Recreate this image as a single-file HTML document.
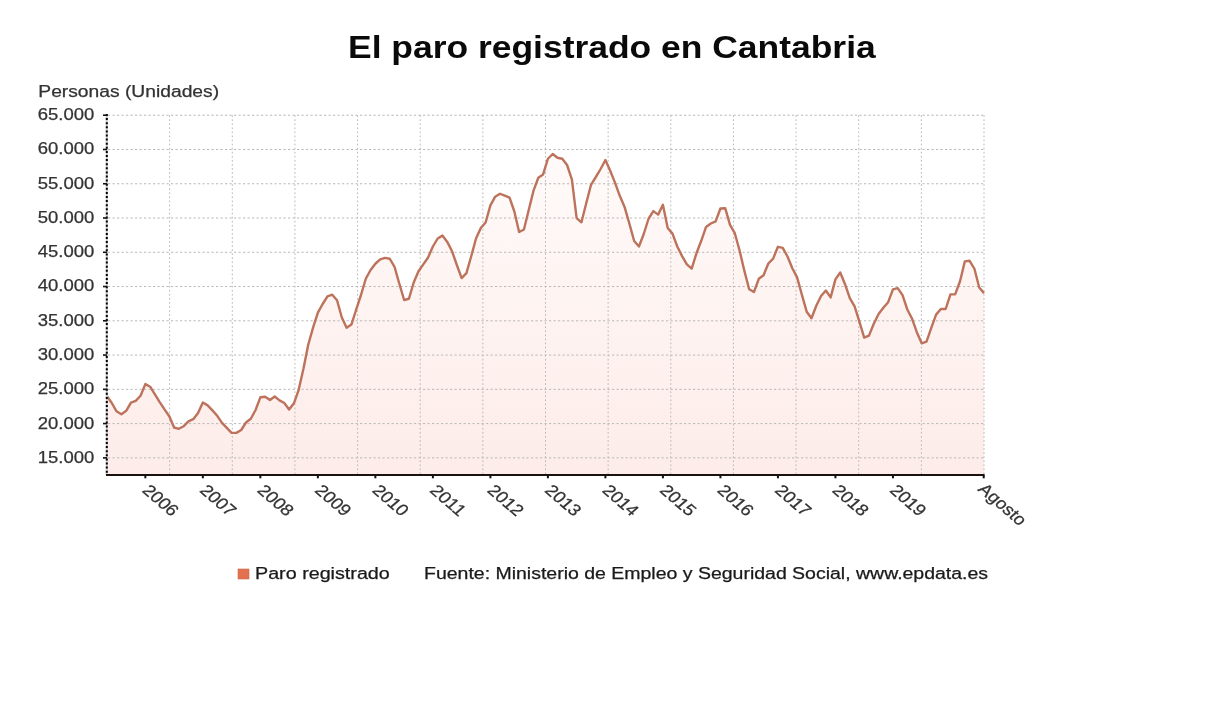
<!DOCTYPE html>
<html><head><meta charset="utf-8"><title>El paro registrado en Cantabria</title>
<style>
html,body{margin:0;padding:0;background:#fff;}
body{width:1226px;height:720px;overflow:hidden;}
svg{display:block;}
text{font-family:"Liberation Sans",Arial,sans-serif;}
.g{stroke:#b8b8b8;stroke-width:1;stroke-dasharray:2.2 2.3;fill:none;}
.gv{stroke:#b8b8b8;stroke-width:1;stroke-dasharray:1.7 2.36;fill:none;}
.tk{stroke:#111;stroke-width:1.6;}
.tx{stroke:#111;stroke-width:2;}
.yl{font-size:16px;fill:#333;text-anchor:end;stroke:#333;stroke-width:0.25px;}
.xl{font-size:16px;fill:#333;stroke:#333;stroke-width:0.25px;}
.lt{stroke:#1a1a1a;stroke-width:0.25px;}
</style></head>
<body>
<svg width="1226" height="720" viewBox="0 0 1226 720">
<rect width="1226" height="720" fill="#fff"/>
<text x="348" y="57.6" font-size="32" font-weight="bold" fill="#0a0a0a" textLength="527.7" lengthAdjust="spacingAndGlyphs">El paro registrado en Cantabria</text>
<text x="38.3" y="97" font-size="16" fill="#333" stroke="#333" stroke-width="0.25" textLength="180.8" lengthAdjust="spacingAndGlyphs">Personas (Unidades)</text>
<defs><linearGradient id="fg" gradientUnits="userSpaceOnUse" x1="0" y1="115" x2="0" y2="475"><stop offset="0" stop-color="#fffcfb"/><stop offset="1" stop-color="#fdece9"/></linearGradient></defs>
<polygon points="107.00,475.0 107.00,396.20 111.79,403.00 116.58,411.30 121.38,414.20 126.17,410.80 130.96,402.60 135.75,400.90 140.55,395.80 145.34,384.10 150.13,386.70 154.92,394.30 159.72,402.10 164.51,409.40 169.30,416.20 174.09,427.50 178.89,428.80 183.68,426.20 188.47,421.30 193.26,419.20 198.05,413.00 202.85,402.50 207.64,405.40 212.43,410.40 217.22,415.80 222.02,422.90 226.81,427.90 231.60,432.90 236.39,432.90 241.19,430.00 245.98,422.50 250.77,418.75 255.56,410.00 260.36,397.30 265.15,396.80 269.94,400.00 274.73,396.50 279.52,400.40 284.32,403.00 289.11,409.50 293.90,403.30 298.69,389.80 303.49,368.50 308.28,344.50 313.07,327.60 317.86,312.70 322.66,304.00 327.45,296.30 332.24,294.70 337.03,300.30 341.83,317.50 346.62,327.80 351.41,324.60 356.20,309.50 360.99,295.00 365.79,278.75 370.58,270.00 375.37,263.75 380.16,259.40 384.96,257.90 389.75,258.75 394.54,266.90 399.33,283.75 404.13,300.00 408.92,298.75 413.71,282.50 418.50,271.25 423.30,264.40 428.09,257.50 432.88,246.50 437.67,238.50 442.46,235.60 447.26,241.90 452.05,251.25 456.84,265.00 461.63,278.10 466.43,273.10 471.22,256.25 476.01,238.50 480.80,228.00 485.60,222.50 490.39,205.40 495.18,196.70 499.97,193.75 504.77,195.70 509.56,197.70 514.35,211.50 519.14,232.00 523.93,229.50 528.73,210.00 533.52,190.60 538.31,177.75 543.10,174.40 547.90,158.75 552.69,154.00 557.48,157.75 562.27,158.75 567.07,165.00 571.86,179.40 576.65,218.10 581.44,222.30 586.23,203.30 591.03,184.80 595.82,177.00 600.61,169.00 605.40,160.00 610.20,170.80 614.99,182.60 619.78,195.80 624.57,206.90 629.37,223.60 634.16,241.00 638.95,246.50 643.74,234.00 648.54,218.75 653.33,211.10 658.12,214.60 662.91,204.80 667.70,228.00 672.50,233.60 677.29,246.50 682.08,256.10 686.87,264.40 691.67,268.60 696.46,253.30 701.25,240.80 706.04,226.90 710.84,223.50 715.63,221.40 720.42,208.50 725.21,208.20 730.01,224.90 734.80,233.20 739.59,250.50 744.38,270.90 749.17,289.30 753.97,292.00 758.76,278.80 763.55,275.30 768.34,263.50 773.14,258.60 777.93,246.80 782.72,247.80 787.51,256.50 792.31,268.30 797.10,277.40 801.89,294.70 806.68,311.70 811.48,318.30 816.27,305.80 821.06,296.00 825.85,290.50 830.64,297.40 835.44,279.40 840.23,272.50 845.02,284.20 849.81,298.10 854.61,306.40 859.40,321.70 864.19,337.60 868.98,335.60 873.78,323.75 878.57,314.00 883.36,307.80 888.15,302.20 892.95,289.40 897.74,288.10 902.53,295.20 907.32,309.50 912.11,318.80 916.91,332.40 921.70,343.30 926.49,341.70 931.28,327.80 936.08,314.60 940.87,309.00 945.66,309.00 950.45,294.40 955.25,294.20 960.04,281.25 964.83,261.40 969.62,260.80 974.42,268.75 979.21,287.50 984.00,293.10 984.00,475.0" fill="url(#fg)"/>
<line x1="108" y1="457.87" x2="984.0" y2="457.87" class="g"/>
<line x1="108" y1="423.60" x2="984.0" y2="423.60" class="g"/>
<line x1="108" y1="389.34" x2="984.0" y2="389.34" class="g"/>
<line x1="108" y1="355.07" x2="984.0" y2="355.07" class="g"/>
<line x1="108" y1="320.81" x2="984.0" y2="320.81" class="g"/>
<line x1="108" y1="286.54" x2="984.0" y2="286.54" class="g"/>
<line x1="108" y1="252.28" x2="984.0" y2="252.28" class="g"/>
<line x1="108" y1="218.01" x2="984.0" y2="218.01" class="g"/>
<line x1="108" y1="183.75" x2="984.0" y2="183.75" class="g"/>
<line x1="108" y1="149.48" x2="984.0" y2="149.48" class="g"/>
<line x1="108" y1="115.22" x2="984.0" y2="115.22" class="g"/>
<line x1="169.64" y1="115.25" x2="169.64" y2="474" class="gv"/>
<line x1="232.29" y1="115.25" x2="232.29" y2="474" class="gv"/>
<line x1="294.93" y1="115.25" x2="294.93" y2="474" class="gv"/>
<line x1="357.57" y1="115.25" x2="357.57" y2="474" class="gv"/>
<line x1="420.21" y1="115.25" x2="420.21" y2="474" class="gv"/>
<line x1="482.86" y1="115.25" x2="482.86" y2="474" class="gv"/>
<line x1="545.50" y1="115.25" x2="545.50" y2="474" class="gv"/>
<line x1="608.14" y1="115.25" x2="608.14" y2="474" class="gv"/>
<line x1="670.79" y1="115.25" x2="670.79" y2="474" class="gv"/>
<line x1="733.43" y1="115.25" x2="733.43" y2="474" class="gv"/>
<line x1="796.07" y1="115.25" x2="796.07" y2="474" class="gv"/>
<line x1="858.71" y1="115.25" x2="858.71" y2="474" class="gv"/>
<line x1="921.36" y1="115.25" x2="921.36" y2="474" class="gv"/>
<line x1="984.00" y1="115.25" x2="984.00" y2="474" class="gv"/>
<polyline points="107.00,396.20 111.79,403.00 116.58,411.30 121.38,414.20 126.17,410.80 130.96,402.60 135.75,400.90 140.55,395.80 145.34,384.10 150.13,386.70 154.92,394.30 159.72,402.10 164.51,409.40 169.30,416.20 174.09,427.50 178.89,428.80 183.68,426.20 188.47,421.30 193.26,419.20 198.05,413.00 202.85,402.50 207.64,405.40 212.43,410.40 217.22,415.80 222.02,422.90 226.81,427.90 231.60,432.90 236.39,432.90 241.19,430.00 245.98,422.50 250.77,418.75 255.56,410.00 260.36,397.30 265.15,396.80 269.94,400.00 274.73,396.50 279.52,400.40 284.32,403.00 289.11,409.50 293.90,403.30 298.69,389.80 303.49,368.50 308.28,344.50 313.07,327.60 317.86,312.70 322.66,304.00 327.45,296.30 332.24,294.70 337.03,300.30 341.83,317.50 346.62,327.80 351.41,324.60 356.20,309.50 360.99,295.00 365.79,278.75 370.58,270.00 375.37,263.75 380.16,259.40 384.96,257.90 389.75,258.75 394.54,266.90 399.33,283.75 404.13,300.00 408.92,298.75 413.71,282.50 418.50,271.25 423.30,264.40 428.09,257.50 432.88,246.50 437.67,238.50 442.46,235.60 447.26,241.90 452.05,251.25 456.84,265.00 461.63,278.10 466.43,273.10 471.22,256.25 476.01,238.50 480.80,228.00 485.60,222.50 490.39,205.40 495.18,196.70 499.97,193.75 504.77,195.70 509.56,197.70 514.35,211.50 519.14,232.00 523.93,229.50 528.73,210.00 533.52,190.60 538.31,177.75 543.10,174.40 547.90,158.75 552.69,154.00 557.48,157.75 562.27,158.75 567.07,165.00 571.86,179.40 576.65,218.10 581.44,222.30 586.23,203.30 591.03,184.80 595.82,177.00 600.61,169.00 605.40,160.00 610.20,170.80 614.99,182.60 619.78,195.80 624.57,206.90 629.37,223.60 634.16,241.00 638.95,246.50 643.74,234.00 648.54,218.75 653.33,211.10 658.12,214.60 662.91,204.80 667.70,228.00 672.50,233.60 677.29,246.50 682.08,256.10 686.87,264.40 691.67,268.60 696.46,253.30 701.25,240.80 706.04,226.90 710.84,223.50 715.63,221.40 720.42,208.50 725.21,208.20 730.01,224.90 734.80,233.20 739.59,250.50 744.38,270.90 749.17,289.30 753.97,292.00 758.76,278.80 763.55,275.30 768.34,263.50 773.14,258.60 777.93,246.80 782.72,247.80 787.51,256.50 792.31,268.30 797.10,277.40 801.89,294.70 806.68,311.70 811.48,318.30 816.27,305.80 821.06,296.00 825.85,290.50 830.64,297.40 835.44,279.40 840.23,272.50 845.02,284.20 849.81,298.10 854.61,306.40 859.40,321.70 864.19,337.60 868.98,335.60 873.78,323.75 878.57,314.00 883.36,307.80 888.15,302.20 892.95,289.40 897.74,288.10 902.53,295.20 907.32,309.50 912.11,318.80 916.91,332.40 921.70,343.30 926.49,341.70 931.28,327.80 936.08,314.60 940.87,309.00 945.66,309.00 950.45,294.40 955.25,294.20 960.04,281.25 964.83,261.40 969.62,260.80 974.42,268.75 979.21,287.50 984.00,293.10" fill="none" stroke="#bd725b" stroke-width="2.4" stroke-linejoin="round"/>
<line x1="106.8" y1="114" x2="106.8" y2="475" stroke="#c8c8c8" stroke-width="2"/>
<line x1="106.8" y1="114" x2="106.8" y2="475" stroke="#000" stroke-width="2" stroke-dasharray="2 2.1"/>
<line x1="106" y1="475" x2="984.5" y2="475" stroke="#1c1010" stroke-width="1.8"/>
<text x="94.3" y="462.77" class="yl" textLength="56.5" lengthAdjust="spacingAndGlyphs">15.000</text>
<line x1="103" y1="457.87" x2="107" y2="457.87" class="tk"/>
<text x="94.3" y="428.50" class="yl" textLength="56.5" lengthAdjust="spacingAndGlyphs">20.000</text>
<line x1="103" y1="423.60" x2="107" y2="423.60" class="tk"/>
<text x="94.3" y="394.24" class="yl" textLength="56.5" lengthAdjust="spacingAndGlyphs">25.000</text>
<line x1="103" y1="389.34" x2="107" y2="389.34" class="tk"/>
<text x="94.3" y="359.97" class="yl" textLength="56.5" lengthAdjust="spacingAndGlyphs">30.000</text>
<line x1="103" y1="355.07" x2="107" y2="355.07" class="tk"/>
<text x="94.3" y="325.71" class="yl" textLength="56.5" lengthAdjust="spacingAndGlyphs">35.000</text>
<line x1="103" y1="320.81" x2="107" y2="320.81" class="tk"/>
<text x="94.3" y="291.44" class="yl" textLength="56.5" lengthAdjust="spacingAndGlyphs">40.000</text>
<line x1="103" y1="286.54" x2="107" y2="286.54" class="tk"/>
<text x="94.3" y="257.18" class="yl" textLength="56.5" lengthAdjust="spacingAndGlyphs">45.000</text>
<line x1="103" y1="252.28" x2="107" y2="252.28" class="tk"/>
<text x="94.3" y="222.91" class="yl" textLength="56.5" lengthAdjust="spacingAndGlyphs">50.000</text>
<line x1="103" y1="218.01" x2="107" y2="218.01" class="tk"/>
<text x="94.3" y="188.65" class="yl" textLength="56.5" lengthAdjust="spacingAndGlyphs">55.000</text>
<line x1="103" y1="183.75" x2="107" y2="183.75" class="tk"/>
<text x="94.3" y="154.38" class="yl" textLength="56.5" lengthAdjust="spacingAndGlyphs">60.000</text>
<line x1="103" y1="149.48" x2="107" y2="149.48" class="tk"/>
<text x="94.3" y="120.12" class="yl" textLength="56.5" lengthAdjust="spacingAndGlyphs">65.000</text>
<line x1="103" y1="115.22" x2="107" y2="115.22" class="tk"/>
<line x1="145.34" y1="475" x2="145.34" y2="478.3" class="tx"/>
<text transform="translate(141.14,491.2) scale(1.16,1) rotate(45)" class="xl" textLength="36.6" lengthAdjust="spacingAndGlyphs">2006</text>
<line x1="202.85" y1="475" x2="202.85" y2="478.3" class="tx"/>
<text transform="translate(198.65,491.2) scale(1.16,1) rotate(45)" class="xl" textLength="36.6" lengthAdjust="spacingAndGlyphs">2007</text>
<line x1="260.36" y1="475" x2="260.36" y2="478.3" class="tx"/>
<text transform="translate(256.16,491.2) scale(1.16,1) rotate(45)" class="xl" textLength="36.6" lengthAdjust="spacingAndGlyphs">2008</text>
<line x1="317.86" y1="475" x2="317.86" y2="478.3" class="tx"/>
<text transform="translate(313.66,491.2) scale(1.16,1) rotate(45)" class="xl" textLength="36.6" lengthAdjust="spacingAndGlyphs">2009</text>
<line x1="375.37" y1="475" x2="375.37" y2="478.3" class="tx"/>
<text transform="translate(371.17,491.2) scale(1.16,1) rotate(45)" class="xl" textLength="36.6" lengthAdjust="spacingAndGlyphs">2010</text>
<line x1="432.88" y1="475" x2="432.88" y2="478.3" class="tx"/>
<text transform="translate(428.68,491.2) scale(1.16,1) rotate(45)" class="xl" textLength="36.6" lengthAdjust="spacingAndGlyphs">2011</text>
<line x1="490.39" y1="475" x2="490.39" y2="478.3" class="tx"/>
<text transform="translate(486.19,491.2) scale(1.16,1) rotate(45)" class="xl" textLength="36.6" lengthAdjust="spacingAndGlyphs">2012</text>
<line x1="547.90" y1="475" x2="547.90" y2="478.3" class="tx"/>
<text transform="translate(543.70,491.2) scale(1.16,1) rotate(45)" class="xl" textLength="36.6" lengthAdjust="spacingAndGlyphs">2013</text>
<line x1="605.40" y1="475" x2="605.40" y2="478.3" class="tx"/>
<text transform="translate(601.20,491.2) scale(1.16,1) rotate(45)" class="xl" textLength="36.6" lengthAdjust="spacingAndGlyphs">2014</text>
<line x1="662.91" y1="475" x2="662.91" y2="478.3" class="tx"/>
<text transform="translate(658.71,491.2) scale(1.16,1) rotate(45)" class="xl" textLength="36.6" lengthAdjust="spacingAndGlyphs">2015</text>
<line x1="720.42" y1="475" x2="720.42" y2="478.3" class="tx"/>
<text transform="translate(716.22,491.2) scale(1.16,1) rotate(45)" class="xl" textLength="36.6" lengthAdjust="spacingAndGlyphs">2016</text>
<line x1="777.93" y1="475" x2="777.93" y2="478.3" class="tx"/>
<text transform="translate(773.73,491.2) scale(1.16,1) rotate(45)" class="xl" textLength="36.6" lengthAdjust="spacingAndGlyphs">2017</text>
<line x1="835.44" y1="475" x2="835.44" y2="478.3" class="tx"/>
<text transform="translate(831.24,491.2) scale(1.16,1) rotate(45)" class="xl" textLength="36.6" lengthAdjust="spacingAndGlyphs">2018</text>
<line x1="892.95" y1="475" x2="892.95" y2="478.3" class="tx"/>
<text transform="translate(888.75,491.2) scale(1.16,1) rotate(45)" class="xl" textLength="36.6" lengthAdjust="spacingAndGlyphs">2019</text>
<line x1="983.70" y1="475" x2="983.70" y2="478.3" class="tx"/>
<text transform="translate(977.10,490) scale(1.16,1) rotate(45)" class="xl" textLength="51.5" lengthAdjust="spacingAndGlyphs">Agosto</text>
<rect x="238" y="569" width="11" height="10" fill="#e3704f" stroke="#c96a50" stroke-width="0.6"/>
<text x="255" y="579" font-size="16" fill="#1a1a1a" class="lt" textLength="134.8" lengthAdjust="spacingAndGlyphs">Paro registrado</text>
<text x="424" y="579" font-size="16" fill="#1a1a1a" class="lt" textLength="564.1" lengthAdjust="spacingAndGlyphs">Fuente: Ministerio de Empleo y Seguridad Social, www.epdata.es</text>
</svg>
</body></html>
